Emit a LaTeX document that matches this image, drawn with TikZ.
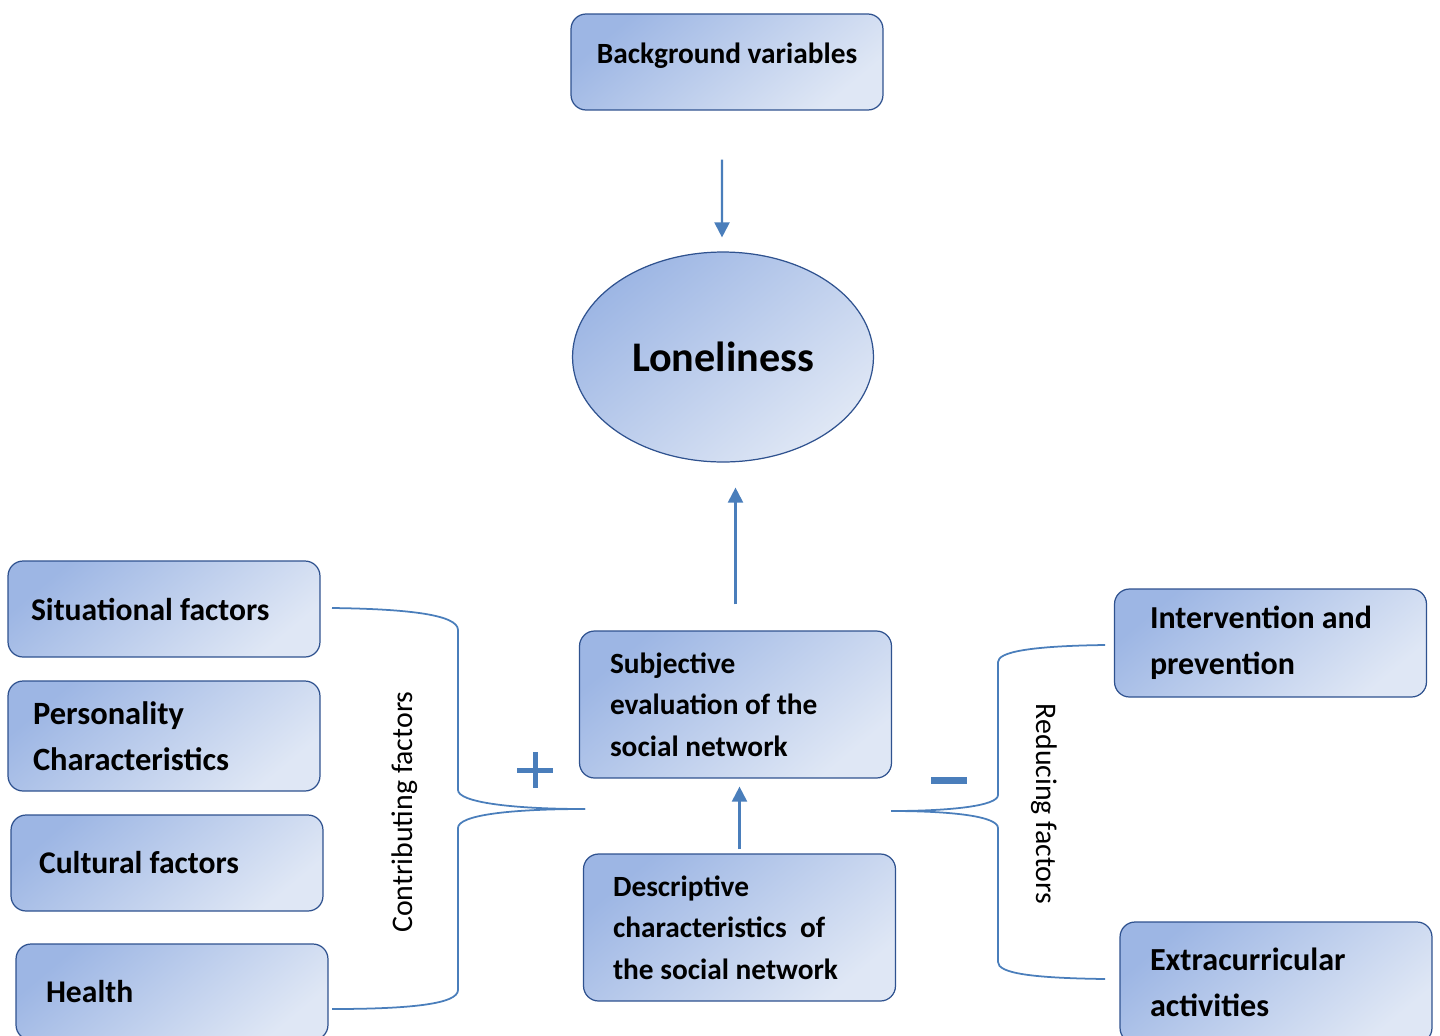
\documentclass[tikz,border=0pt]{standalone}
\usepackage{fontspec}
\setmainfont{Carlito}
\usepackage{xcolor}
\usepackage{tikz}
\usetikzlibrary{shapes,arrows,positioning,calc,arrows.meta}

\definecolor{lineblue}{HTML}{4A7EBB}
\definecolor{edgeblue}{HTML}{2F528F}
\definecolor{shadedark}{HTML}{9DB6E4}
\definecolor{shadelight}{HTML}{DFE7F5}

\tikzset{
  box/.style={draw=edgeblue, line width=0.7pt, rounded corners=0.3cm,
    top color=shadedark, bottom color=shadelight, shading angle=40,
    font=\fontsize{18}{25}\selectfont\bfseries, align=left,
    execute at begin node={\spaceskip=0.226em\relax},
    inner ysep=0pt, minimum width=6.24cm},
  small/.style={font=\fontsize{16.7}{23.5}\selectfont\bfseries},
  conn/.style={draw=lineblue, line width=1.2pt, -{Triangle[width=0.3cm,length=0.3cm]}},
  brace/.style={draw=lineblue, line width=1pt},
  side/.style={font=\fontsize{17}{20}\selectfont}
}

\begin{document}
\begin{tikzpicture}[x=0.02cm, y=-0.02cm]
        \useasboundingbox (0,0) rectangle (1440,1035);

        \node[box, font=\fontsize{16.7}{20}\selectfont\bfseries, align=center, minimum height=1.92cm, text depth=0.34cm] (bg) at (727,62) {Background variables};
        \node[ellipse, draw=edgeblue, line width=0.7pt, top color=shadedark, bottom color=shadelight, shading angle=40,
              minimum width=6.02cm, minimum height=4.2cm, font=\fontsize{24}{28}\selectfont\bfseries] (lon) at (723,357) {Loneliness};

        \node[box, text width=5.32cm, inner xsep=0.46cm, minimum height=1.92cm] (sit) at (164,609) {Situational factors};
        \node[box, font=\fontsize{18.5}{26}\selectfont\bfseries, text width=5.24cm, inner xsep=0.5cm, minimum height=2.2cm] (pers) at (164,736) {Personality\\Characteristics};
        \node[box, text width=5.12cm, inner xsep=0.56cm, minimum height=1.92cm] (cult) at (167,863) {Cultural factors};
        \node[box, text width=5.04cm, inner xsep=0.6cm, minimum height=1.92cm] (health) at (172,992) {Health};

        \node[box, small, text width=5.02cm, inner xsep=0.6cm, minimum height=2.94cm] (subj) at (735.5,704.5) {Subjective\\evaluation of the\\social network};
        \node[box, small, text width=5.06cm, inner xsep=0.58cm, minimum height=2.94cm] (desc) at (739.5,927.5) {Descriptive\\characteristics\ \ of\\the social network};

        \node[box, font=\fontsize{18.2}{26}\selectfont\bfseries, text width=4.82cm, inner xsep=0.7cm, minimum height=2.16cm] (inter) at (1270.5,643) {Intervention and\\prevention};
        \node[box, font=\fontsize{18.3}{26}\selectfont\bfseries, text width=5.04cm, inner xsep=0.6cm, minimum height=2.42cm] (extra) at (1276,982.5) {Extracurricular\\activities};

        \draw[conn, shorten <=0.98cm, shorten >=0.28cm] ([xshift=-0.1cm]bg.south) -- ([xshift=-0.02cm]lon.north);
        \draw[conn, shorten <=0.52cm, shorten >=0.5cm] (subj.north) -- (subj.north |- lon.south);
        \draw[conn, shorten <=0.08cm, shorten >=0.16cm] (desc.north) -- (desc.north |- subj.south);

        \draw[brace] (332,608) .. controls (410,609) and (458,615) .. (458,630) -- (458,790)
              .. controls (458,802) and (510,809) .. (585,809);
        \draw[brace] (585,809) .. controls (510,809) and (458,815) .. (458,828) -- (458,990)
              .. controls (458,1004) and (410,1009) .. (332,1009);
        \draw[brace] (1105,645) .. controls (1030,646) and (998,652) .. (998,662) -- (998,795)
              .. controls (998,806) and (950,811) .. (891,811);
        \draw[brace] (891,811) .. controls (950,811) and (998,816) .. (998,828) -- (998,962)
              .. controls (998,973) and (1030,978) .. (1105,979);

        \node[side, rotate=90] (contrib) at (405,812) {Contributing factors};
        \node[side, rotate=-90] (reduce) at (1044,804) {Reducing factors};

        \draw[lineblue, line width=0.1cm] (517,770) -- (553,770) (535,752) -- (535,788);
        \draw[lineblue, line width=0.14cm] (931,780) -- (967,780);
    \end{tikzpicture}
\end{document}
